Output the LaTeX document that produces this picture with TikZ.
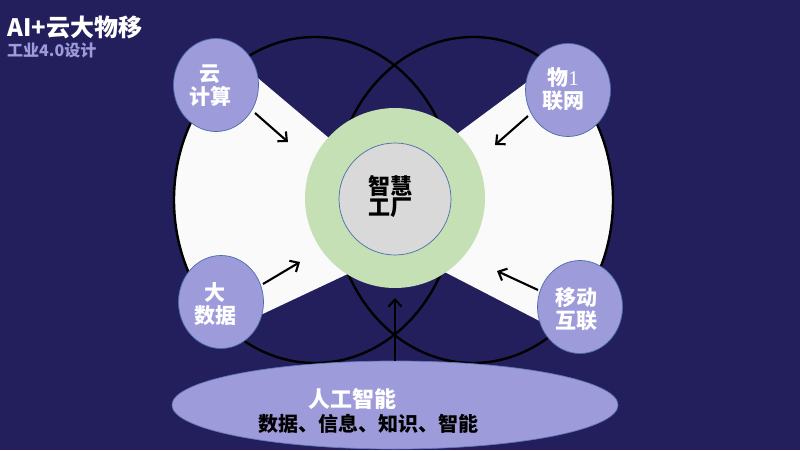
\documentclass[tikz,border=0pt]{standalone}
\usepackage{fontspec}
\setmainfont{Noto Sans CJK SC}
\newfontfamily\serifone{Liberation Serif}
\usetikzlibrary{arrows.meta,shapes.geometric}
\definecolor{bgc}{HTML}{231F5C}
\definecolor{lav}{HTML}{9E9BDB}
\definecolor{ringg}{HTML}{C5E0B4}
\definecolor{grayc}{HTML}{D9D9D9}
\definecolor{bordc}{HTML}{4A6CAA}
\definecolor{whitec}{HTML}{FAFAFA}
\begin{document}
\begin{tikzpicture}[x=1pt,y=-1pt,
  sat/.style={ellipse, draw=bordc, line width=0.7pt, fill=lav, minimum width=85pt, minimum height=93pt, inner sep=0pt},
  sattext/.style={text=white, font=\fontsize{21}{23}\selectfont\bfseries, align=center, inner sep=0pt},
  arr/.style={line width=2.1pt, -{Straight Barb[length=7pt,width=13pt]}},
  bigring/.style={line width=2.4pt, draw=black}]
% background
\fill[bgc] (0,0) rectangle (800,450);
\useasboundingbox (0,0) rectangle (800,450);
% white bow-tie clipped by the two big ellipses
\begin{scope}
  \clip (315,200) ellipse [x radius=141pt, y radius=163pt]
        (473,200) ellipse [x radius=140pt, y radius=163pt];
  \fill[whitec] (150,-13) -- (439,231) -- (150,367) -- cycle;
  \fill[whitec] (650,-9) -- (342,219) -- (650,378) -- cycle;
\end{scope}
% big ellipses outlines
\draw[bigring] (315,200) ellipse [x radius=141pt, y radius=163pt];
\draw[bigring] (473,200) ellipse [x radius=140pt, y radius=163pt];
% centre
\node[circle, fill=ringg, minimum size=180pt, inner sep=0pt] (ring) at (395,198) {};
\node[circle, fill=grayc, draw=bordc, line width=0.7pt, minimum size=112pt, inner sep=0pt] (core) at (395,199) {};
\node[font=\fontsize{22}{21}\selectfont\bfseries, align=center, inner sep=0pt] (coret) at (390,197) {智慧\\工厂};
% satellites
\node[sat] (cloud) at (216,85) {};
\node[sattext] (cloudt) at (210,86) {云\\计算};
\node[sat] (iot) at (568,90) {};
\node[sattext] (iott) at (563,89) {物{\serifone\mdseries 1}\\联网};
\node[sat] (bigd) at (221,302) {};
\node[sattext] (bigdt) at (215,304) {大\\数据};
\node[sat] (mob) at (580,307) {};
\node[sattext] (mobt) at (576,309) {移动\\互联};
% arrow ends
\coordinate (c1s) at (255,113); \coordinate (c1e) at (288,142);
\coordinate (c2s) at (528,116); \coordinate (c2e) at (495,145);
\coordinate (c3s) at (263,284); \coordinate (c3e) at (300,262);
\coordinate (c4s) at (538,290); \coordinate (c4e) at (497,271);
\coordinate (c5e) at (395,298);
\draw[arr] (c1s) -- (c1e);
\draw[arr] (c2s) -- (c2e);
\draw[arr] (c3s) -- (c3e);
\draw[arr] (c4s) -- (c4e);
% bottom ellipse
\node[ellipse, fill=lav, draw=bordc!70!lav, line width=0.7pt, minimum width=446pt, minimum height=88pt, inner sep=0pt] (ai) at (395,405) {};
\draw[arr] (ai.north) -- (c5e);
\node[text=white, font=\fontsize{22}{24}\selectfont\bfseries, inner sep=0pt] (ait) at (352,399) {人工智能};
\node[text=black, font=\fontsize{20}{22}\selectfont\bfseries, inner sep=0pt] (aisub) at (368,424) {数据、信息、知识、智能};
% title
\node[anchor=west, text=white, font=\fontsize{24}{26}\selectfont\bfseries, inner sep=0pt] (title) at (7,27) {AI+云大物移};
\node[anchor=west, text=lav, font=\fontsize{16}{18}\selectfont\bfseries, inner sep=0pt] (subtitle) at (7,50) {工业4.0设计};
\end{tikzpicture}
\end{document}
